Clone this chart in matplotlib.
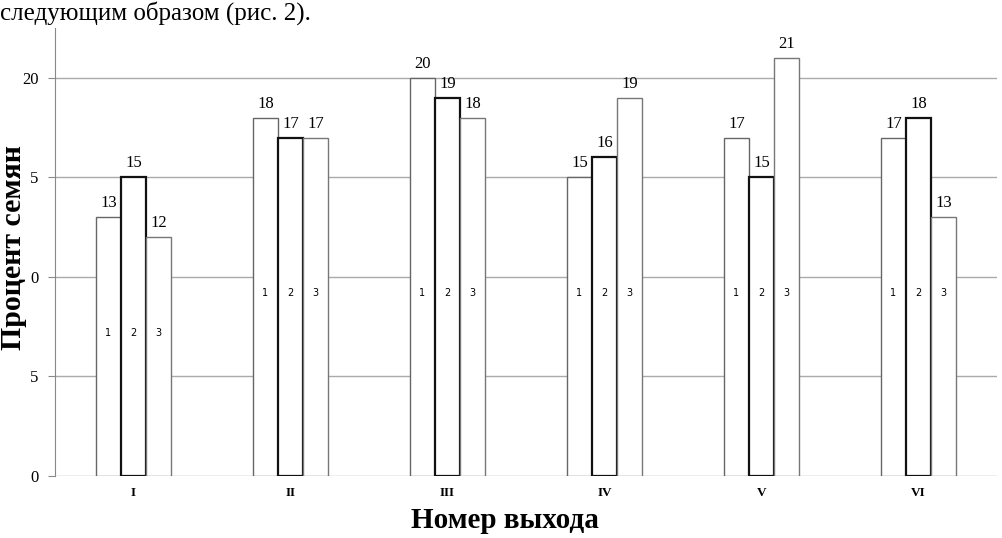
import numpy as np
import matplotlib.pyplot as plt

# data
groups = ['I', 'II', 'III', 'IV', 'V', 'VI']
series1 = [13, 18, 20, 15, 17, 17]
series2 = [15, 17, 19, 16, 15, 18]
series3 = [12, 17, 18, 19, 21, 13]
inner_label_y = [7.2, 9.2, 9.2, 9.2, 9.2, 9.2]
ytick_vals = [0, 5, 10, 15, 20]
ytick_text = ['0', '5', '0', '5', '20']  # left part of labels is cut off in the scan

plt.rcParams['font.family'] = ['Liberation Serif', 'DejaVu Serif']

fig = plt.figure(figsize=(10.03, 5.38), dpi=100)
ax = fig.add_axes([55 / 1003, 62 / 538, 942 / 1003, 448 / 538])

x = np.arange(len(groups))
w = 0.16
styles = [('#666666', 1.0), ('#111111', 1.6), ('#777777', 1.0)]
for i, (vals, (ec, lw)) in enumerate(zip([series1, series2, series3], styles)):
    pos = x + (i - 1) * w
    ax.bar(pos, vals, width=w, color='white', edgecolor=ec, linewidth=lw, zorder=3)
    for p, v, ly in zip(pos, vals, inner_label_y):
        ax.text(p, v + 0.3, str(v), ha='center', va='bottom', fontsize=12, zorder=4)
        ax.text(p, ly, str(i + 1), ha='center', va='center', fontsize=7,
                family='DejaVu Sans', zorder=4)

ax.set_xlim(-0.5, 5.5)
ax.set_ylim(0, 22.5)
ax.set_yticks(ytick_vals)
ax.set_yticklabels(ytick_text, fontsize=12)
ax.set_xticks(x)
ax.set_xticklabels(groups, fontsize=9.5, fontweight='bold')
ax.tick_params(axis='x', length=0, pad=8)
ax.tick_params(axis='y', length=5, color='#888888', pad=7)
ax.grid(axis='y', color='#aaaaaa', linewidth=1, zorder=0)
for s in ['top', 'right', 'bottom']:
    ax.spines[s].set_visible(False)
ax.spines['left'].set_color('#888888')

fig.text(14 / 1003, 1 - 248 / 538, 'Процент семян', rotation=90, ha='center', va='center',
         fontsize=21.5, fontweight='bold')
fig.text(505 / 1003, 1 - 520 / 538, 'Номер выхода', ha='center', va='center',
         fontsize=21, fontweight='bold')
fig.text(0, 1 - 13 / 538, 'следующим образом (рис. 2).', ha='left', va='center', fontsize=18)

fig.savefig('out.png', dpi=100, facecolor='white')
